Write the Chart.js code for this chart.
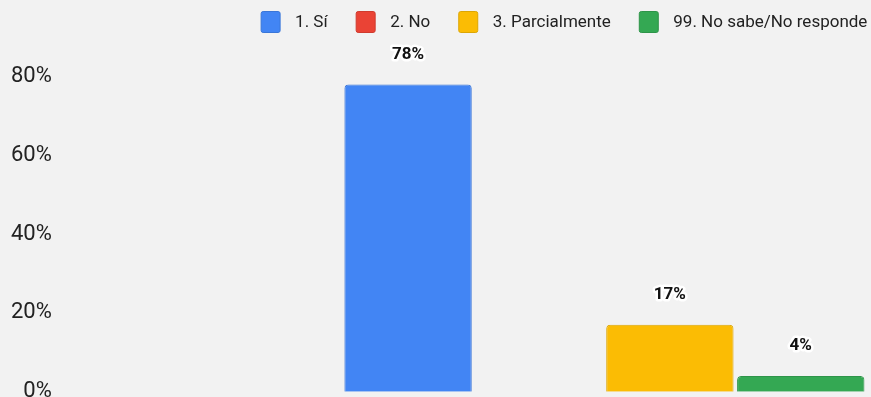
<!DOCTYPE html>
<html>
<head>
<meta charset="utf-8">
<script src="https://cdn.jsdelivr.net/npm/chart.js@4/dist/chart.umd.min.js"></script>
<style>
  html, body { margin: 0; padding: 0; background: #f2f2f2; overflow: hidden; }
  #wrap { position: relative; width: 1138px; height: 426px; margin-left: -10px; }
</style>
</head>
<body>
<div id="wrap"><canvas id="respuestas"></canvas></div>
<script>
const categories = [''];
const seriesNames = ['1. Sí', '2. No', '3. Parcialmente', '99. No sabe/No responde'];
const seriesValues = [[78], [0], [17], [4]];
const seriesColors = ['#4285f4', '#ea4335', '#fbbc04', '#34a853'];
const seriesBorders = ['#3a76d8', '#cf3b2e', '#dca604', '#2e9449'];
const yTicks = [0, 20, 40, 60, 80];

Chart.defaults.font.family = 'Roboto, "Liberation Sans", sans-serif';

// legend row drawn by hand: wider gap between swatch and text than the built-in one
const topLegend = {
    id: 'topLegend',
    afterDraw(chart) {
        const ctx = chart.ctx;
        const boxW = 20, boxH = 22, textGap = 14.5, itemGap = 28;
        const centerX = 574, centerY = 22;
        ctx.save();
        ctx.font = '17px Roboto, sans-serif';
        ctx.textBaseline = 'middle';
        ctx.textAlign = 'left';
        const widths = seriesNames.map((n) => ctx.measureText(n).width);
        const total = widths.reduce((s, w) => s + boxW + textGap + w, 0) + itemGap * (widths.length - 1);
        let x = centerX - total / 2;
        seriesNames.forEach((name, i) => {
            ctx.fillStyle = seriesColors[i];
            ctx.strokeStyle = seriesBorders[i];
            ctx.lineWidth = 1;
            ctx.beginPath();
            ctx.roundRect(x + 0.5, centerY - boxH / 2 + 0.5, boxW - 1, boxH - 1, 2);
            ctx.fill();
            ctx.stroke();
            ctx.fillStyle = '#222222';
            ctx.fillText(name, x + boxW + textGap, centerY + 1);
            x += boxW + textGap + widths[i] + itemGap;
        });
        ctx.restore();
    },
};

// percentage above each bar, white halo behind the text
const barValueLabels = {
    id: 'barValueLabels',
    afterDatasetsDraw(chart) {
        const ctx = chart.ctx;
        ctx.save();
        ctx.font = 'bold 17px Roboto, sans-serif';
        ctx.textAlign = 'center';
        ctx.textBaseline = 'middle';
        ctx.lineJoin = 'round';
        chart.data.datasets.forEach((ds, i) => {
            const meta = chart.getDatasetMeta(i);
            meta.data.forEach((bar, j) => {
                const v = ds.data[j];
                if (!v) return;
                const text = v + '%';
                const y = bar.y - 30;
                ctx.lineWidth = 5;
                ctx.strokeStyle = '#ffffff';
                ctx.strokeText(text, bar.x, y);
                ctx.fillStyle = '#111111';
                ctx.fillText(text, bar.x, y);
            });
        });
        ctx.restore();
    },
};

new Chart(document.getElementById('respuestas').getContext('2d'), {
    type: 'bar',
    data: {
        labels: categories,
        datasets: seriesNames.map((name, i) => ({
            label: name,
            data: seriesValues[i],
            backgroundColor: seriesColors[i],
            borderColor: seriesBorders[i],
            borderWidth: 1,
            borderSkipped: 'bottom',
            borderRadius: { topLeft: 4, topRight: 4 },
            categoryPercentage: 0.5,
            barPercentage: 0.973,
        })),
    },
    options: {
        responsive: true,
        maintainAspectRatio: false,
        animation: false,
        layout: { padding: { left: 0, right: 0, top: 45, bottom: 17 } },
        plugins: {
            tooltip: { enabled: false },
            legend: { display: false },
        },
        scales: {
            x: { display: false },
            y: {
                min: 0,
                max: 88,
                border: { display: false },
                grid: { display: false },
                afterBuildTicks(axis) {
                    axis.ticks = yTicks.map((v) => ({ value: v }));
                },
                ticks: {
                    padding: 21,
                    color: '#222222',
                    font: { size: 22 },
                    callback: (v) => v + '%',
                },
            },
        },
    },
    plugins: [barValueLabels, topLegend],
});
</script>
</body>
</html>
